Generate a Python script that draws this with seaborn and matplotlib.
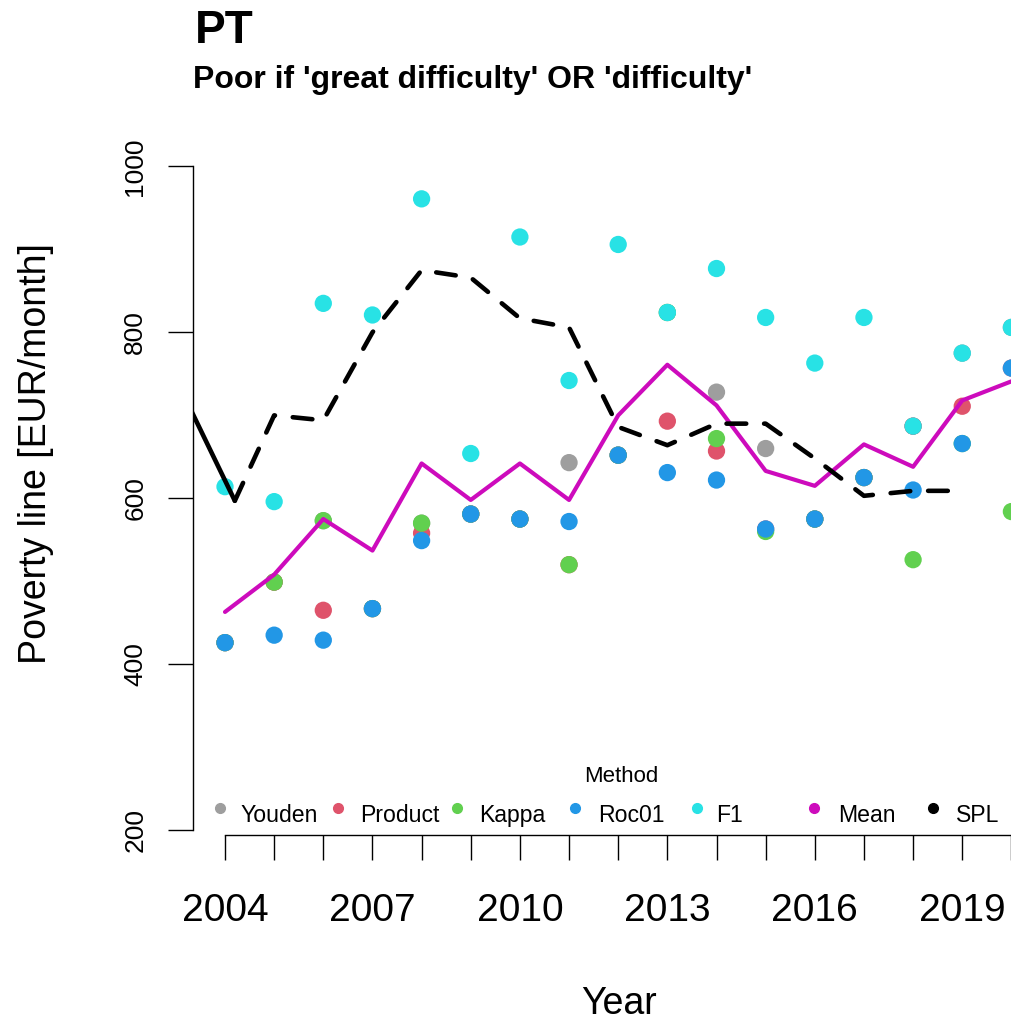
import matplotlib
matplotlib.use("Agg")
import matplotlib.pyplot as plt
from matplotlib.lines import Line2D
from matplotlib.ticker import FixedLocator, FixedFormatter
import seaborn as sns
import pandas as pd

# ---------------- data ----------------
years = list(range(2004, 2021))
youden  = [426, 499, 573, 467, 570, 581, 575, 643, 652, 824, 728, 660, 575, 625, 687, 775, 806]
product = [426, 499, 465, 467, 558, 581, 575, 520, 652, 693, 657, 563, 575, 625, 687, 711, 757]
kappa   = [426, 499, 573, 467, 570, 581, 575, 520, 652, 824, 672, 560, 575, 625, 526, 666, 584]
roc01   = [426, 435, 429, 467, 549, 581, 575, 572, 652, 631, 622, 563, 575, 625, 610, 666, 757]
f1      = [614, 596, 835, 821, 961, 654, 915, 742, 906, 824, 877, 818, 763, 818, 687, 775, 806]
mean    = [463, 508, 575, 537, 642, 598, 642, 598, 700, 761, 712, 633, 615, 665, 638, 718, 741]

spl_solid_years = [2003.0, 2004.2]
spl_solid_vals = [744, 597]
spl_years = [2004.2, 2005, 2006, 2007, 2008, 2009, 2010, 2011, 2012, 2013,
             2014, 2015, 2016, 2017, 2018, 2019]
spl_vals = [597, 700, 694, 800, 875, 866, 817, 806, 686, 664,
            690, 690, 648, 603, 609, 609]

methods = ["Youden", "Product", "Kappa", "Roc01", "F1"]
legend_labels = ["Youden", "Product", "Kappa", "Roc01", "F1", "Mean", "SPL"]
colors = {"Youden": "#9E9E9E", "Product": "#DF536B", "Kappa": "#61D04F",
          "Roc01": "#2297E6", "F1": "#28E2E5", "Mean": "#CD0BBC", "SPL": "#000000"}

x_tick_years = list(range(2004, 2021))
x_label_years = [2004, 2007, 2010, 2013, 2016, 2019]
y_ticks = [200, 400, 600, 800, 1000]

title = "PT"
subtitle = "Poor if 'great difficulty' OR 'difficulty'"

# ---------------- long table ----------------
series = {"Youden": youden, "Product": product, "Kappa": kappa, "Roc01": roc01, "F1": f1}
df = pd.DataFrame([(y, m, v) for m in methods for y, v in zip(years, series[m])],
                  columns=["Year", "Method", "Value"])

# ---------------- figure ----------------
sns.set_style("white")
plt.rcParams["font.family"] = ["Liberation Sans", "DejaVu Sans"]
plt.rcParams["text.color"] = "black"
plt.rcParams["axes.labelcolor"] = "black"
plt.rcParams["xtick.color"] = "black"
plt.rcParams["ytick.color"] = "black"

W, H = 1012, 1021
fig = plt.figure(figsize=(W / 100, H / 100), dpi=100)
# plot region in pixels: left 193, bottom 835, right 1042 (beyond canvas), top 140
ax = fig.add_axes([193 / W, (H - 835) / H, (1042 - 193) / W, (835 - 140) / H])

px_per_year = 49.15
x_left = 2004 - 32 / px_per_year
x_right = 2004 + (1042 - 225) / px_per_year
px_per_unit = 0.8295
y_bottom = 200 - (835 - 830.1) / px_per_unit
y_top = 200 + (830.1 - 140) / px_per_unit

sns.scatterplot(data=df, x="Year", y="Value", hue="Method", palette=colors,
                hue_order=methods, s=155, linewidth=0, legend=False, ax=ax, zorder=2)

sns.lineplot(x=years, y=mean, color=colors["Mean"], linewidth=3.0, ax=ax, zorder=3,
             solid_capstyle="round", solid_joinstyle="round")
sns.lineplot(x=spl_solid_years, y=spl_solid_vals, color="black", linewidth=3.3, ax=ax,
             zorder=4, solid_capstyle="round")
sns.lineplot(x=spl_years, y=spl_vals, color="black", linewidth=3.3, ax=ax, zorder=4,
             linestyle=(0, (4.3, 3.9)), dash_capstyle="round", dash_joinstyle="round")

ax.set_xlim(x_left, x_right)
ax.set_ylim(y_bottom, y_top)
ax.set_xlabel("")
ax.set_ylabel("")

for s in ["top", "right"]:
    ax.spines[s].set_visible(False)
ax.spines["left"].set_bounds(200, 1000)
ax.spines["bottom"].set_bounds(2004, 2020)
for s in ["left", "bottom"]:
    ax.spines[s].set_linewidth(1.0)
    ax.spines[s].set_color("black")

ax.xaxis.set_major_locator(FixedLocator(x_tick_years))
ax.xaxis.set_major_formatter(FixedFormatter([str(y) if y in x_label_years else "" for y in x_tick_years]))
ax.yaxis.set_major_locator(FixedLocator(y_ticks))
ax.yaxis.set_major_formatter(FixedFormatter([str(v) for v in y_ticks]))
ax.tick_params(axis="x", direction="out", length=18, width=1.0, pad=24, labelsize=28,
               bottom=True, colors="black")
ax.tick_params(axis="y", direction="out", length=18, width=1.0, pad=15, labelsize=19,
               left=True, colors="black")
for lab in ax.get_yticklabels():
    lab.set_rotation(90)
    lab.set_va("center")
ax.grid(False)

# titles and axis labels
fig.text(195 / W, 1 - 43 / H, title, fontsize=33, fontweight="bold", va="baseline", ha="left")
fig.text(193 / W, 1 - 88 / H, subtitle, fontsize=23, fontweight="bold", va="baseline", ha="left")
fig.text(619 / W, 1 - 1014 / H, "Year", fontsize=27, ha="center", va="baseline")
fig.text(36 / W, 1 - 454 / H, "Poverty line [EUR/month]", fontsize=27, rotation=90,
         ha="center", va="center")

# legend (horizontal, R style)
fig.text(621 / W, 1 - 781.7 / H, "Method", fontsize=16, ha="center", va="baseline")
marker_x = [220.5, 338, 457.5, 575, 697, 814, 933]
text_x = [240, 360, 479, 598, 716, 838, 955.5]
for lab, mx, tx in zip(legend_labels, marker_x, text_x):
    fig.add_artist(Line2D([mx / W], [1 - 808 / H], transform=fig.transFigure,
                          marker="o", markersize=7, color=colors[lab], linestyle="none"))
    fig.text(tx / W, 1 - 821.5 / H, lab, fontsize=16.6, ha="left", va="baseline")

fig.savefig("out.png", dpi=100)
